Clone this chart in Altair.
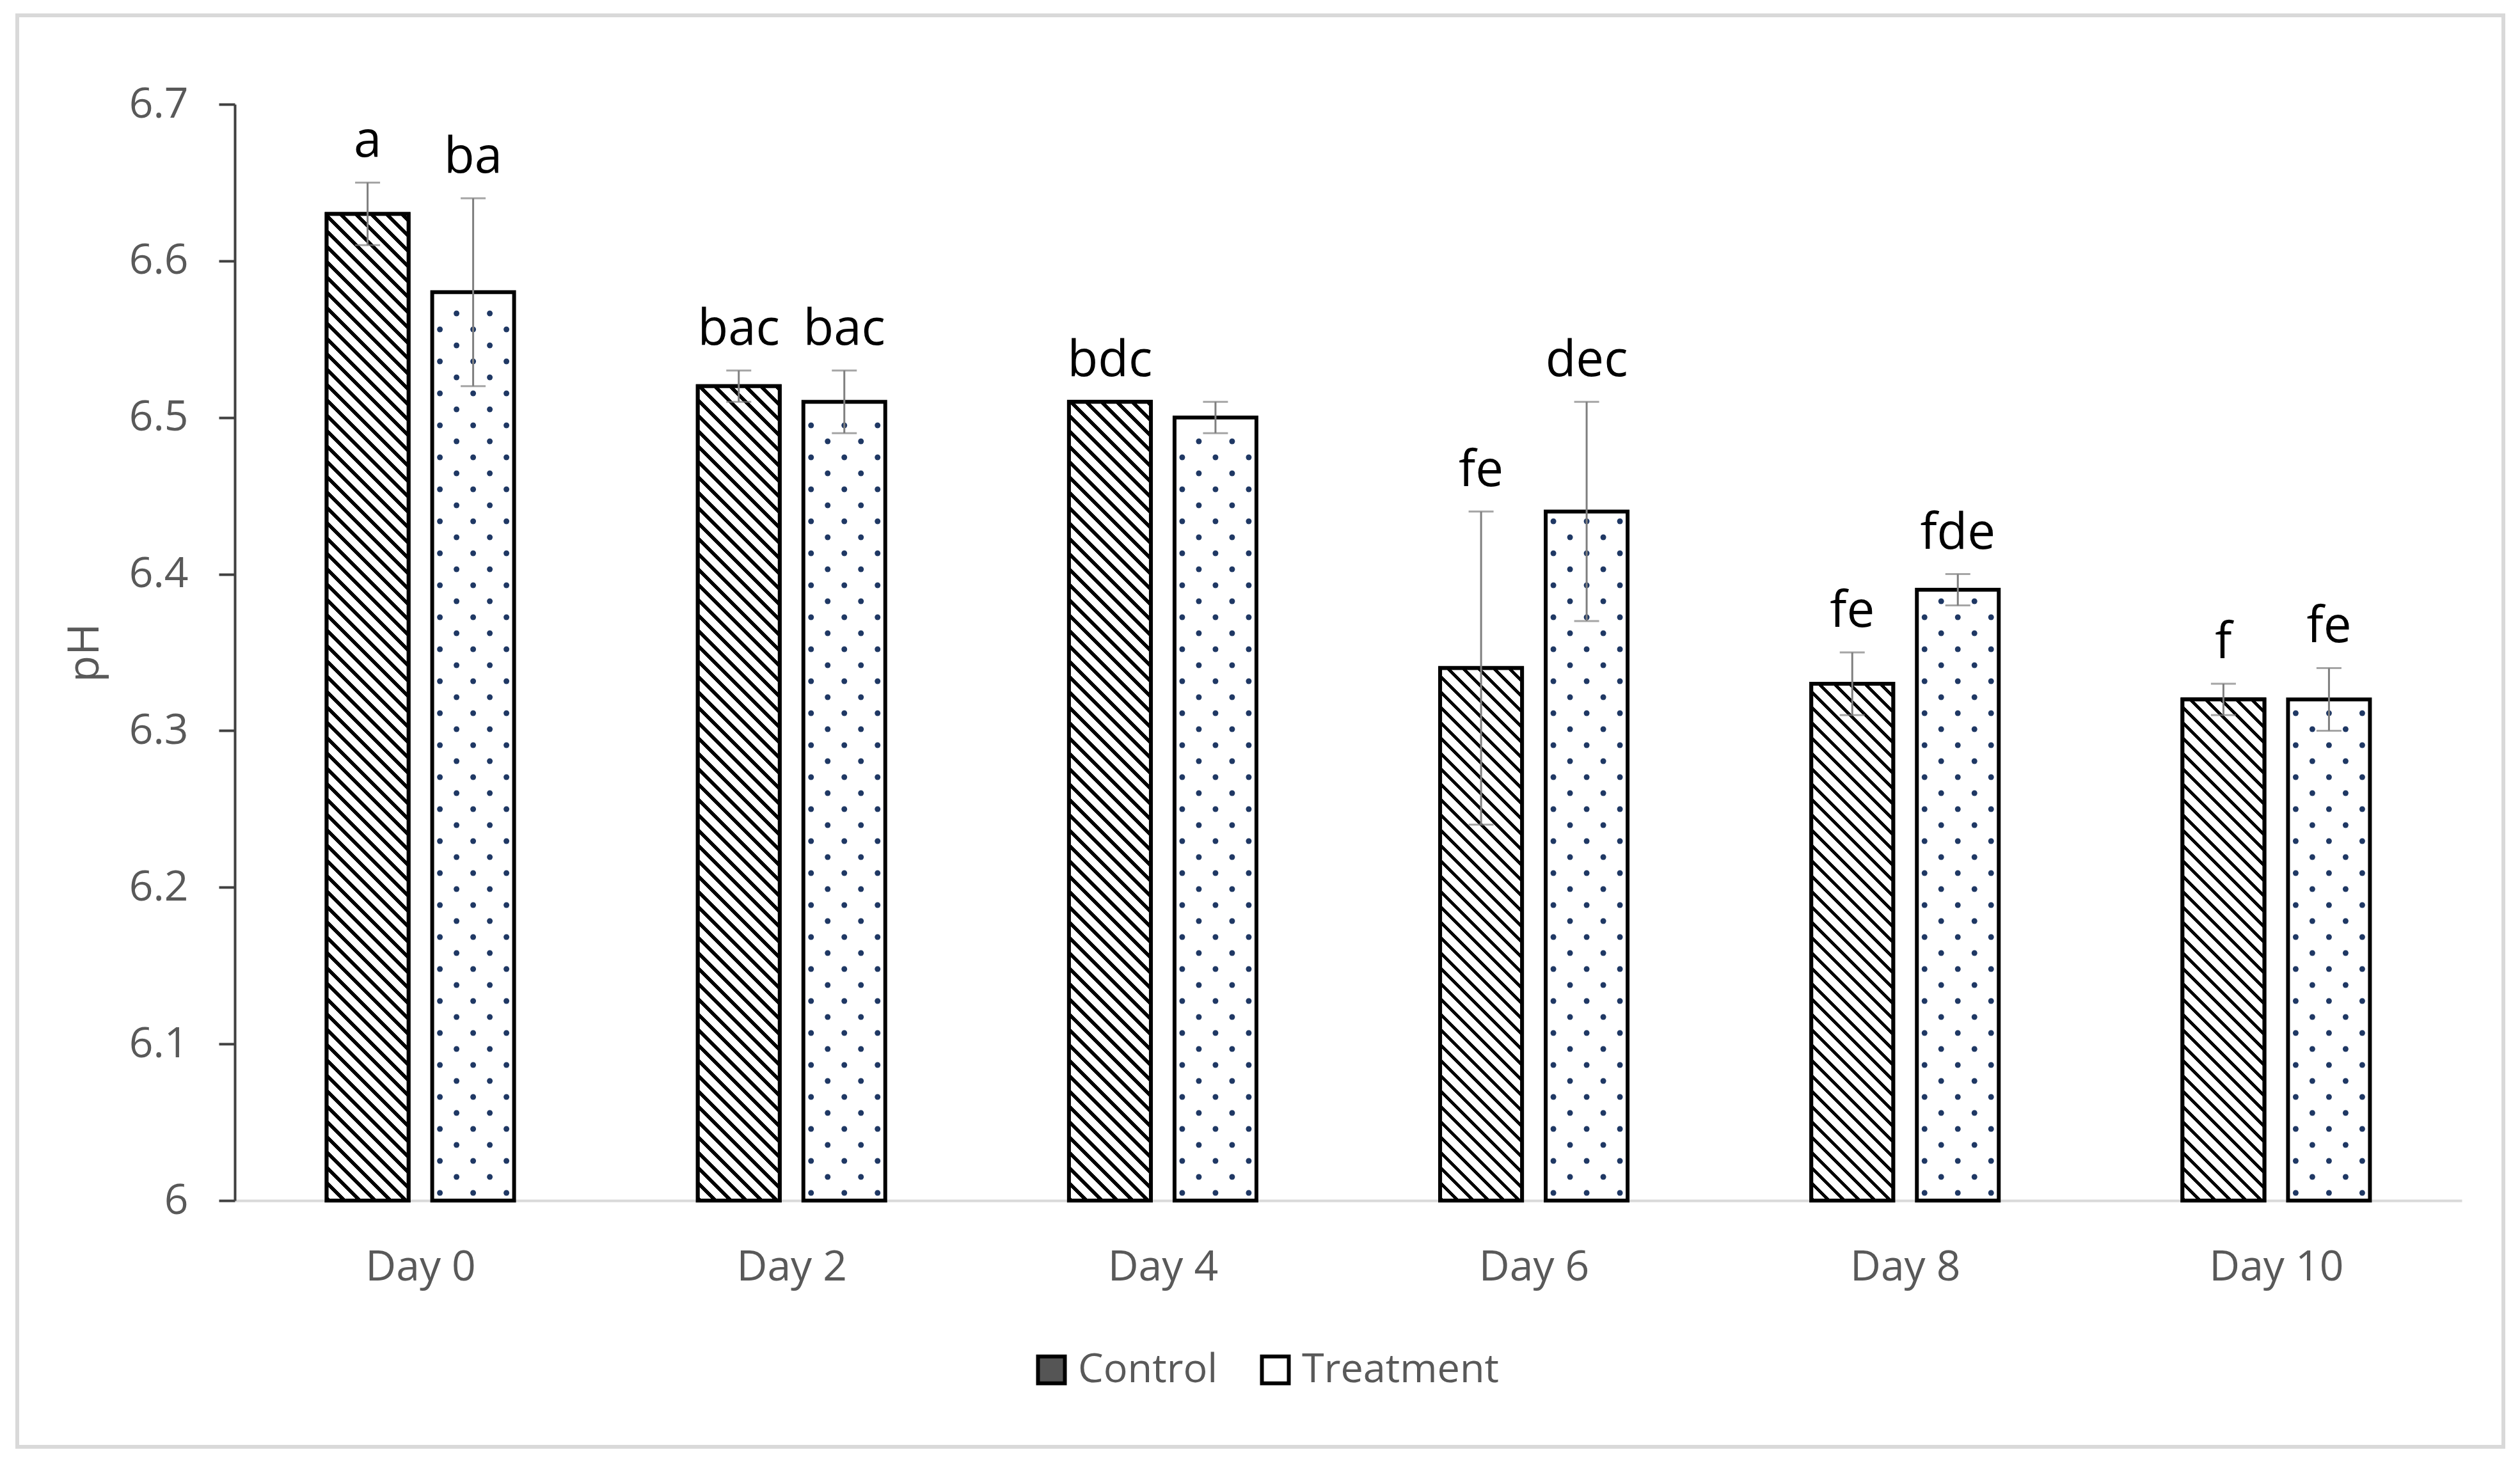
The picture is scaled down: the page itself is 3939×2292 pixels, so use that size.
import json
import altair as alt
import pandas as pd

# ---------------- data ----------------
days = ["Day 0", "Day 2", "Day 4", "Day 6", "Day 8", "Day 10"]
groups = ["Control", "Treatment"]
control_ph = [6.63, 6.52, 6.51, 6.34, 6.33, 6.32]
treatment_ph = [6.58, 6.51, 6.50, 6.44, 6.39, 6.32]
control_err = [0.02, 0.01, 0.00, 0.10, 0.02, 0.01]
treatment_err = [0.06, 0.02, 0.01, 0.07, 0.01, 0.02]
control_letters = ["a", "bac", "bdc", "fe", "fe", "f"]
treatment_letters = ["ba", "bac", "", "dec", "fde", "fe"]

rows = []
for i, d in enumerate(days):
    rows.append(dict(day=d, idx=i, group=groups[0], ph=control_ph[i],
                     err=control_err[i], letter=control_letters[i]))
    rows.append(dict(day=d, idx=i, group=groups[1], ph=treatment_ph[i],
                     err=treatment_err[i], letter=treatment_letters[i]))
df = pd.DataFrame(rows)

# ---------------- layout / style constants ----------------
PLOT_W = 3481
PLOT_H = 1714
Y_MIN, Y_MAX = 6.0, 6.7
PX_X = PLOT_W / len(days)
PX_Y = PLOT_H / (Y_MAX - Y_MIN)
BAR_PX = 128.0
HALF_SEP = 82.5
FONT = "Open Sans"
GREY_TXT = "#595959"

# diagonal hatch for the Control bars (gradient with hard stops)
L = 1800.0
PERIOD = 24.0
LINE_W = 7.5
stops = []
k = 0
while k * PERIOD < L:
    a = k * PERIOD / L
    b = min((k * PERIOD + LINE_W) / L, 1.0)
    c = min((k + 1) * PERIOD / L, 1.0)
    stops += [{"offset": round(a, 5), "color": "#000000"},
              {"offset": round(b, 5), "color": "#000000"},
              {"offset": round(b, 5), "color": "#ffffff"},
              {"offset": round(c, 5), "color": "#ffffff"}]
    k += 1
W2 = BAR_PX * BAR_PX
grad_expr = ("{gradient: 'linear', x1: 0, y1: 1, "
             f"x2: {BAR_PX}*{L}/({W2} + datum.hpx*datum.hpx), "
             f"y2: 1 - datum.hpx*{L}/({W2} + datum.hpx*datum.hpx), "
             f"stops: {json.dumps(stops)}}}")

base = alt.Chart(df).transform_calculate(
    center=f"datum.idx + 0.5 + (datum.group == '{groups[0]}' ? -1 : 1) * {HALF_SEP / PX_X}",
).transform_calculate(
    x0=f"datum.center - {BAR_PX / 2 / PX_X}",
    x1=f"datum.center + {BAR_PX / 2 / PX_X}",
    hpx=f"(datum.ph - {Y_MIN}) * {PX_Y}",
    top="datum.ph + datum.err",
    low="datum.ph - datum.err",
    base=f"{Y_MIN}",
)

x_scale = alt.Scale(domain=[0, len(days)], nice=False, zero=False)
y_scale = alt.Scale(domain=[Y_MIN, Y_MAX], nice=False, zero=False)

x_axis = alt.Axis(
    values=[i + 0.5 for i in range(len(days))],
    labelExpr=f"{json.dumps(days)}[floor(datum.value)]",
    title=None, grid=False, ticks=False, tickSize=0,
    domainColor="#d9d9d9", domainWidth=4,
    labelFont=FONT, labelFontSize=66, labelColor=GREY_TXT,
    labelPadding=72, labelFlush=False, labelOverlap=False, labelLimit=1000,
)
y_axis = alt.Axis(
    values=[round(Y_MIN + 0.1 * i, 1) for i in range(8)],
    format=".1~f", title="pH", grid=False,
    tickSize=25, tickWidth=4, tickColor="#404040",
    domainColor="#404040", domainWidth=4,
    labelFont=FONT, labelFontSize=66, labelColor=GREY_TXT, labelPadding=48,
    titleFont=FONT, titleFontSize=68, titleFontWeight="normal", titleColor=GREY_TXT,
    titleAngle=270, titleBaseline="alphabetic", titleAlign="center",
    titleX=-214, titleY=PLOT_H / 2,
)


def X(field):
    return alt.X(field, scale=x_scale, axis=x_axis)


def Y(field):
    return alt.Y(field, scale=y_scale, axis=y_axis)


bars = base.mark_bar(stroke="black", strokeWidth=6, strokeJoin="miter").encode(
    x=X("x0:Q"),
    x2="x1:Q",
    y=Y("ph:Q"),
    y2="base:Q",
    fill=alt.Fill("group:N", scale=alt.Scale(domain=groups, range=["#555555", "#ffffff"]),
                  legend=alt.Legend(
                      orient="none", legendX=1245, legendY=1947, direction="horizontal",
                      title=None, symbolType="square", symbolSize=1764,
                      symbolStrokeColor="black", symbolStrokeWidth=6,
                      labelFont=FONT, labelFontSize=63, labelColor=GREY_TXT,
                      labelLimit=1000, labelOffset=10, columnPadding=56, padding=0)),
)

hatch = base.transform_filter(f"datum.group == '{groups[0]}'").transform_calculate(
    grad=grad_expr
).mark_bar(stroke="black", strokeWidth=6, strokeJoin="miter").encode(
    x=X("x0:Q"),
    x2="x1:Q",
    y=Y("ph:Q"),
    y2="base:Q",
    fill=alt.Fill("grad:N", scale=None),
)

dots = base.transform_filter(f"datum.group == '{groups[1]}'").transform_calculate(
    rowi="sequence(0, floor((datum.hpx - 26) / 25) + 1)"
).transform_flatten(["rowi"]).transform_calculate(
    cols="datum.rowi % 2 == 0 ? [-52, 0, 52] : [-26, 26]"
).transform_flatten(["cols"]).transform_calculate(
    dot_x=f"datum.center + datum.cols / {PX_X}",
    dot_y=f"{Y_MIN} + (12 + 25 * datum.rowi) / {PX_Y}",
).mark_circle(size=80, color="#1f3864", opacity=1).encode(
    x=X("dot_x:Q"),
    y=Y("dot_y:Q"),
)

err_base = base.transform_filter("datum.err > 0")
err_line = err_base.mark_rule(color="#7f7f7f", strokeWidth=3).encode(
    x=X("center:Q"),
    y=Y("low:Q"),
    y2="top:Q",
)
cap_top = err_base.mark_tick(orient="horizontal", size=39, thickness=3, color="#7f7f7f").encode(
    x=X("center:Q"),
    y=Y("top:Q"),
)
cap_low = err_base.mark_tick(orient="horizontal", size=39, thickness=3, color="#7f7f7f").encode(
    x=X("center:Q"),
    y=Y("low:Q"),
)

letters = base.transform_filter("datum.letter != ''").mark_text(
    font=FONT, fontSize=78, color="black", baseline="alphabetic", align="center", dy=-40
).encode(
    x=X("center:Q"),
    y=Y("top:Q"),
    text="letter:N",
)

frame = alt.Chart(alt.Data(values=[{"f": 1}])).mark_rect(
    fillOpacity=0, stroke="#d9d9d9", strokeWidth=6
).encode(
    x=alt.value(-340), x2=alt.value(3546), y=alt.value(-139), y2=alt.value(2099)
)

chart = alt.layer(bars, hatch, dots, err_line, cap_top, cap_low, letters, frame).properties(
    width=PLOT_W, height=PLOT_H,
    autosize=alt.AutoSizeParams(type="none"),
    padding={"left": 359, "top": 155, "right": 83, "bottom": 407},
    background="white",
).configure_view(strokeWidth=0)

chart.save("out.html", embed_options={"renderer": "svg", "actions": False})
